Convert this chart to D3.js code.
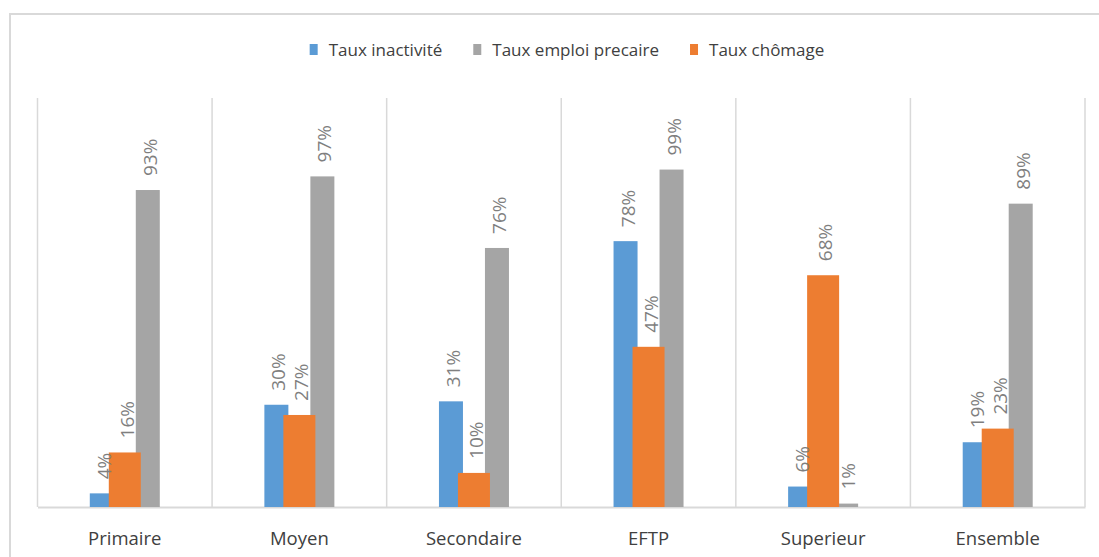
<!DOCTYPE html>
<html>
<head>
<meta charset="utf-8">
<script src="https://cdn.jsdelivr.net/npm/d3@7"></script>
<style>
  body { margin: 0; background: #fff; }
  svg { display: block; font-family: "Open Sans", sans-serif; }
</style>
</head>
<body>
<div id="chart"></div>
<script>
// categories and series (values in %)
const categories = ['Primaire', 'Moyen', 'Secondaire', 'EFTP', 'Superieur', 'Ensemble'];
const inactivite = [4, 30, 31, 78, 6, 19];
const precaire = [93, 97, 76, 99, 1, 89];
const chomage = [16, 27, 10, 47, 68, 23];

const series = [
  { key: 'inact', name: 'Taux inactivité', values: inactivite, color: '#5b9bd5' },
  { key: 'prec', name: 'Taux emploi precaire', values: precaire, color: '#a5a5a5' },
  { key: 'chom', name: 'Taux chômage', values: chomage, color: '#ed7d31' }
];

const width = 1099, height = 557;
const plot = { left: 37.5, right: 1085, top: 98, bottom: 507 };

const svg = d3.select('#chart')
  .append('svg')
    .attr('width', width)
    .attr('height', height);

// outer chart frame (only top and left edges visible)
svg.append('rect')
  .attr('x', 10).attr('y', 14)
  .attr('width', 1200).attr('height', 700)
  .attr('fill', 'none')
  .attr('stroke', '#d9d9d9')
  .attr('stroke-width', 2);

const x = d3.scaleBand()
  .domain(categories)
  .range([plot.left, plot.right])
  .padding(0);

// inner position: blue, orange, gray (orange overlaps both)
const xInner = d3.scaleBand()
  .domain(['inact', 'chom', 'prec'])
  .range([-34.5, 34.5]);

const y = d3.scaleLinear()
  .domain([0, 120])
  .range([plot.bottom, plot.top]);

// vertical separators between categories
const bounds = categories.map(c => x(c)).concat([plot.right]);
svg.append('g')
  .selectAll('line')
  .data(bounds)
  .join('line')
    .attr('x1', d => d).attr('x2', d => d)
    .attr('y1', plot.top).attr('y2', plot.bottom)
    .attr('stroke', '#d9d9d9')
    .attr('stroke-width', 1.5);

// x axis
svg.append('g')
  .attr('transform', `translate(0,${plot.bottom})`)
  .call(d3.axisBottom(x).tickSize(0).tickPadding(25))
  .call(g => g.select('.domain').attr('stroke', '#d9d9d9').attr('stroke-width', 2))
  .call(g => g.selectAll('text')
    .attr('fill', '#404040')
    .attr('font-size', 18.5)
    .attr('font-family', '"Open Sans", sans-serif'));

// bars: blue and gray first, orange on top
const barWidth = { inact: 24, prec: 24, chom: 32 };

series.forEach(s => {
  svg.append('g')
    .selectAll('rect')
    .data(s.values)
    .join('rect')
      .attr('x', (d, i) => x(categories[i]) + x.bandwidth() / 2 + xInner(s.key) + xInner.bandwidth() / 2 - barWidth[s.key] / 2)
      .attr('y', d => y(d))
      .attr('width', barWidth[s.key])
      .attr('height', d => y(0) - y(d))
      .attr('fill', s.color);
});

// value labels, rotated
series.forEach(s => {
  svg.append('g')
    .selectAll('text')
    .data(s.values)
    .join('text')
      .attr('transform', (d, i) => {
        const cx = x(categories[i]) + x.bandwidth() / 2 + xInner(s.key) + xInner.bandwidth() / 2;
        return `translate(${cx + 9},${y(d) - 14}) rotate(-90)`;
      })
      .attr('text-anchor', 'start')
      .attr('font-size', 19)
      .attr('fill', '#7f7f7f')
      .text(d => d + '%');
});

// legend
const legend = svg.append('g');
const items = legend.selectAll('g')
  .data(series)
  .join('g');
items.append('rect')
  .attr('y', 44).attr('width', 8).attr('height', 11)
  .attr('fill', d => d.color);
items.append('text')
  .attr('x', 19).attr('y', 56)
  .attr('font-size', 17)
  .attr('fill', '#404040')
  .text(d => d.name);

let lx = 0;
items.each(function () {
  const w = d3.select(this).select('text').node().getComputedTextLength();
  d3.select(this).attr('transform', `translate(${lx},0)`);
  lx += 19 + w + 31;
});
const legendWidth = lx - 31;
legend.attr('transform', `translate(${567 - legendWidth / 2},0)`);
</script>
</body>
</html>
